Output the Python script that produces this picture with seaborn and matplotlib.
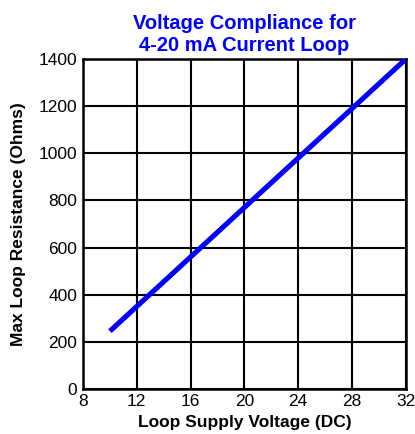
import seaborn as sns
import matplotlib
matplotlib.use('Agg')
import matplotlib.pyplot as plt
import pandas as pd

# endpoints
supply_voltage = [10, 32]
max_resistance = [245, 1400]

x_ticks = [8, 12, 16, 20, 24, 28, 32]
y_ticks = [0, 200, 400, 600, 800, 1000, 1200, 1400]

df = pd.DataFrame({'volts': supply_voltage, 'ohms': max_resistance})

sns.set_style('white')
plt.rcParams['font.family'] = ['Liberation Sans', 'DejaVu Sans']
plt.rcParams['text.color'] = 'black'
plt.rcParams['axes.labelcolor'] = 'black'

fig = plt.figure(figsize=(4.15, 4.34), dpi=100)
ax = fig.add_axes([0.2, 0.104, 0.778, 0.76])

sns.lineplot(data=df, x='volts', y='ohms', ax=ax, color='#0000ff',
             linewidth=3.7, solid_capstyle='butt', zorder=3)

ax.set_xlim(8, 32)
ax.set_ylim(0, 1400)
ax.set_xticks(x_ticks)
ax.set_yticks(y_ticks)
ax.grid(True, color='black', linewidth=1.5)
for s in ax.spines.values():
    s.set_color('black')
    s.set_linewidth(1.8)
ax.tick_params(length=0, labelsize=12.5, pad=4, colors='black')

ax.set_xlabel('Loop Supply Voltage (DC)', fontsize=12.5, fontweight='bold',
              labelpad=4, color='black')
ax.set_ylabel('Max Loop Resistance (Ohms)', fontsize=12.5, fontweight='bold',
              labelpad=9, color='black')
ax.set_title('Voltage Compliance for\n4-20 mA Current Loop', fontsize=14.5,
             fontweight='bold', color='#0000ff', pad=6, linespacing=1.2)

fig.savefig('out.png', dpi=100)
